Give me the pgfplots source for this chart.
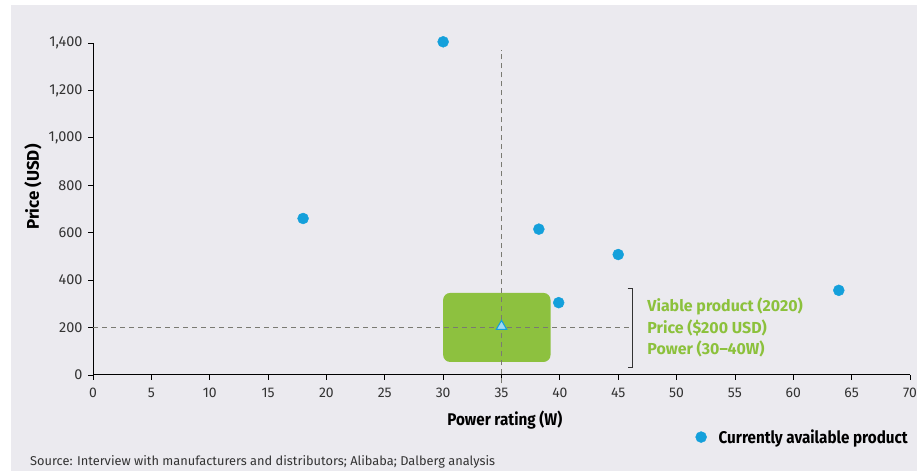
\documentclass[border=0pt]{standalone}
\usepackage{fontspec}
\setmainfont{Fira Sans}
\newfontfamily\cond[FakeStretch=0.9]{Fira Sans}
\usepackage{pgfplots}
\pgfplotsset{compat=1.18}
\definecolor{bg}{HTML}{EBEAEF}
\definecolor{dotblue}{HTML}{14A0DB}
\definecolor{boxgreen}{HTML}{8DC13F}
\definecolor{txtgreen}{HTML}{8CC13C}
\definecolor{dashgrey}{HTML}{7A7A72}
\definecolor{tickc}{HTML}{333333}
\begin{document}
\begin{tikzpicture}[x=1bp,y=1bp]
\path[use as bounding box] (0,0) rectangle (917,471);
\fill[white] (0,0) rectangle (917,471);
\fill[bg] (11,0) rectangle (917,466);
\begin{axis}[
  at={(93bp,96bp)}, anchor=south west,
  scale only axis, width=817bp, height=332bp,
  xmin=0, xmax=70, ymin=0, ymax=1400,
  axis lines=left, axis line style={black, line width=1pt, -},
  xtick={0,5,...,70}, ytick={0,200,...,1400},
  tick style={black, line width=0.8pt},
  tick align=outside, major tick length=5bp,
  /pgf/number format/assume math mode=true,
  /pgf/number format/1000 sep={,},
  xticklabel style={font=\fontsize{14}{16}\selectfont, text=tickc, yshift=-5bp},
  yticklabel style={font=\fontsize{14.5}{16}\selectfont, text=tickc, xshift=-2bp},
  xlabel={\textbf{Power rating (W)}},
  xlabel style={font=\cond\fontsize{17}{19}\selectfont, at={(axis description cs:0.504,-0.1355)}, anchor=center},
  ylabel={\textbf{Price (USD)}},
  ylabel style={font=\fontsize{17}{19}\selectfont, at={(axis description cs:-0.0734,0.566)}, anchor=center},
  clip=false,
  legend style={at={(1.0,-0.187)}, anchor=east, draw=none, fill=none, inner sep=0pt,
    font=\cond\bfseries\fontsize{17}{19}\selectfont, text=black},
  legend cell align=left,
]
\fill[boxgreen, rounded corners=7bp] (axis cs:30,55) rectangle (axis cs:39.2,346);
\addplot[dashgrey, line width=0.8pt, dash pattern=on 5bp off 4bp, forget plot]
  coordinates {(35,-35) (35,1371)};
\addplot[dashgrey, line width=0.8pt, dash pattern=on 5bp off 4bp, forget plot]
  coordinates {(0,200) (46.2,200)};
\addplot[tickc, line width=0.9pt, forget plot]
  coordinates {(45.8,367) (46.2,367) (46.2,30) (45.8,30)};
\addplot[only marks, mark=*, mark size=5.5bp, mark options={fill=dotblue, draw=dotblue}, color=dotblue]
  coordinates {(18,660) (30,1405) (38.2,615) (39.9,305) (45,508) (63.9,357)};
\addlegendentry{\hspace{10bp}Currently available product}
\addplot[only marks, mark=triangle*, mark size=6bp, mark options={fill=dotblue!40, draw=dotblue, line width=1.1pt}, forget plot]
  coordinates {(35,205)};
\node[anchor=west, align=left, text=txtgreen, font=\bfseries\fontsize{16}{21.5}\selectfont]
  at (axis cs:47.2,200) {Viable product (2020)\\Price (\$200 USD)\\Power (30--40W)};
\end{axis}
\node[anchor=base west, font=\fontsize{12.85}{14}\selectfont, text=tickc, inner sep=0pt]
  at (30,5) {Source: Interview with manufacturers and distributors; Alibaba; Dalberg analysis};
\end{tikzpicture}
\end{document}
